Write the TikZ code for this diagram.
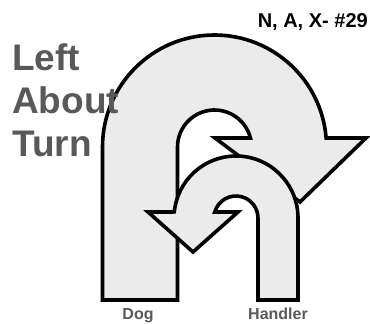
\documentclass[tikz,border=0pt]{standalone}
\usepackage{fontspec}
\setmainfont{Liberation Sans}
\begin{document}
\begin{tikzpicture}[x=1pt,y=1pt,
  arrowshape/.style={draw=black,fill=black!8,line width=3.6pt,line join=miter,miter limit=10},
  greytext/.style={text=black!65,font=\bfseries,inner sep=0pt},
  bigtext/.style={greytext,anchor=base west,font=\bfseries\fontsize{37}{37}\selectfont},
  smalltext/.style={greytext,anchor=base,font=\bfseries\fontsize{16}{16}\selectfont},
]
\useasboundingbox (0,0) rectangle (370,324);
% big arrow (Dog)
\draw[arrowshape] (102.5,24) -- (102.5,177) arc[start angle=180,end angle=4.6,radius=112]
  -- (366,186) -- (300,122) -- (215,186) -- (250.4,186)
  arc[start angle=14.1,end angle=180,radius=37] -- (177.5,24) -- cycle;
% small arrow (Handler)
\draw[arrowshape] (298,24) -- (298,106) arc[start angle=0,end angle=174.4,radius=62]
  -- (148,112) -- (193,72) -- (238,112) -- (214.8,112)
  arc[start angle=164.2,end angle=0,radius=22] -- (258,24) -- cycle;
% texts
\node[bigtext] (left) at (12,253) {Left};
\node[bigtext] (about) at (12,210) {About};
\node[bigtext] (turn) at (12,167) {Turn};
\node[anchor=base east,inner sep=0pt,font=\bfseries\fontsize{20}{20}\selectfont] (code) at (368,296) {N, A, X- \#29};
\node[smalltext] (dog) at (138,4) {Dog};
\node[smalltext] (handler) at (278,4) {Handler};
\end{tikzpicture}
\end{document}
